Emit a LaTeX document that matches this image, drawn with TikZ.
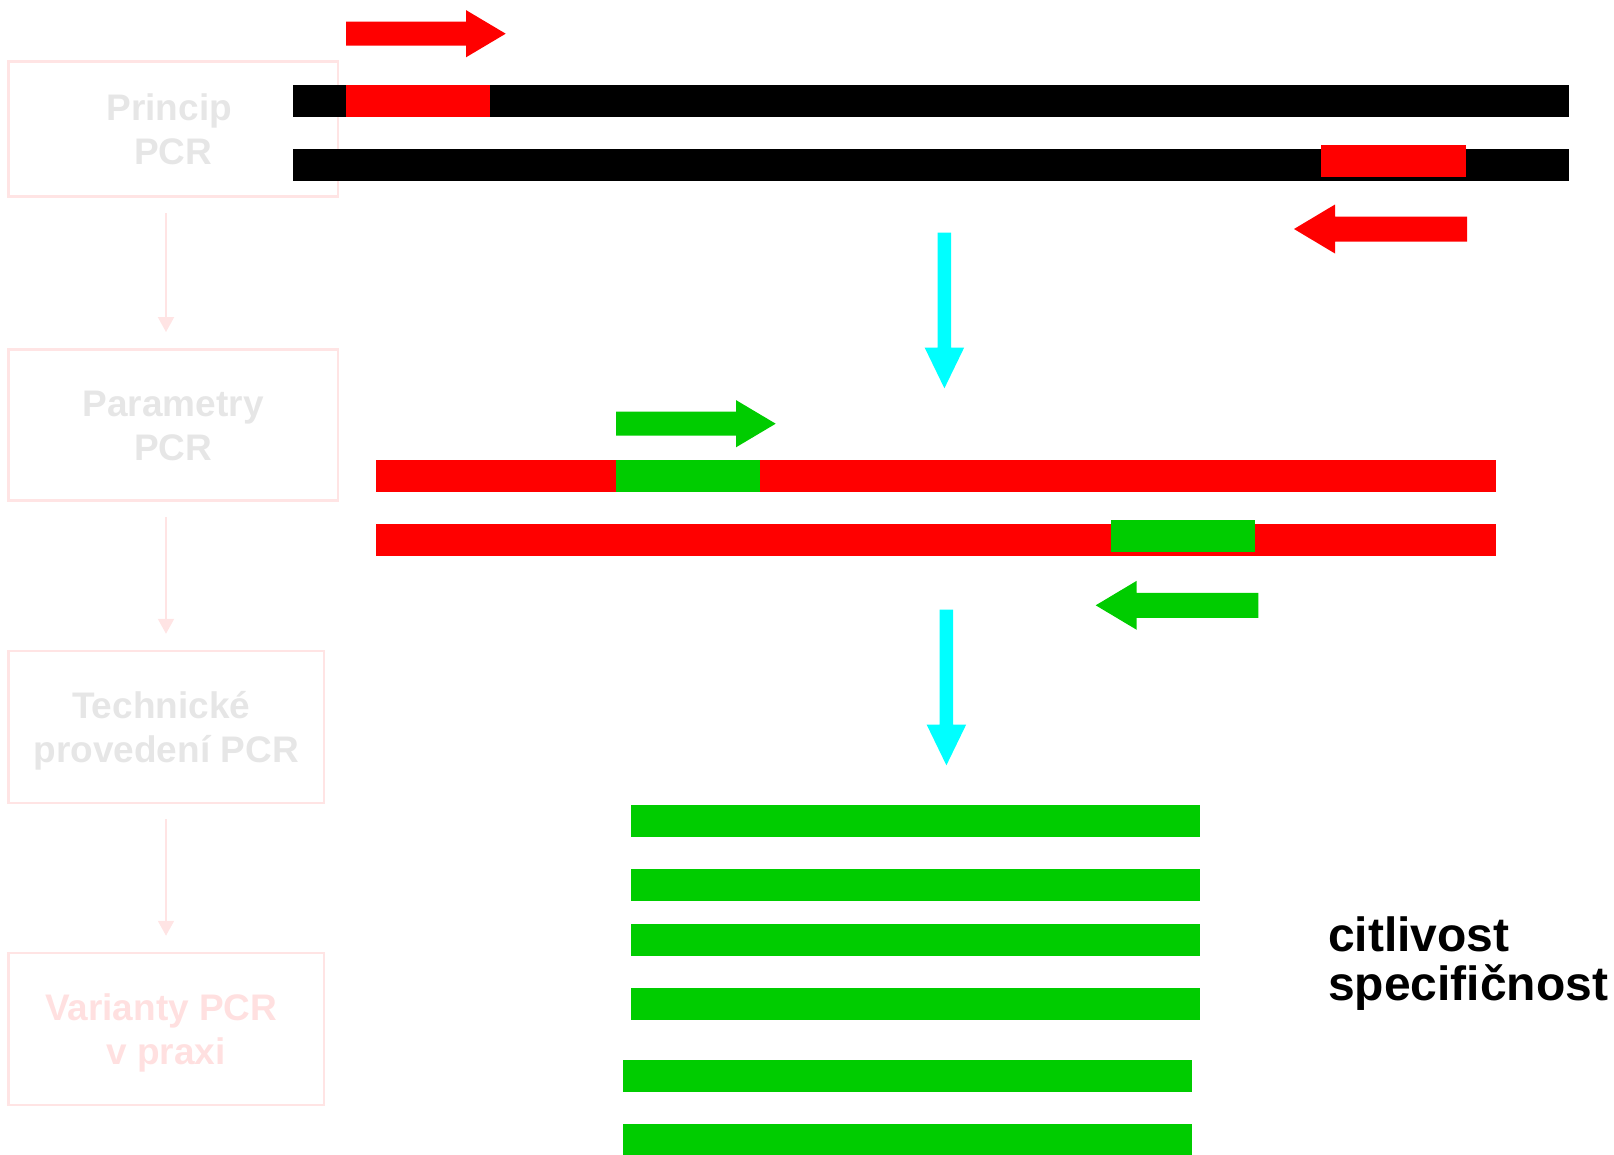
\documentclass[tikz,border=0pt]{standalone}
\usepackage{fontspec}
\setmainfont{Liberation Sans}
\usetikzlibrary{arrows.meta}

\definecolor{pcrred}{RGB}{255,0,0}
\definecolor{pcrgreen}{RGB}{0,204,0}
\definecolor{pcrcyan}{RGB}{0,255,255}
\definecolor{navline}{RGB}{255,228,228}
\definecolor{navtext}{RGB}{230,230,230}
\definecolor{navactive}{RGB}{255,224,224}

\tikzset{
  x=1pt, y=-1pt,
  % two-line labels: cap top of line 1 to baseline of line 2
  navbox/.style={draw=navline, line width=2.5pt, align=center, inner sep=0pt,
    text=navtext, font=\bfseries\fontsize{37}{44}\selectfont,
    text height=70.5pt, text depth=0pt},
  navlink/.style={draw=navline, line width=2pt,
    -{Triangle[width=16pt,length=15pt]}, shorten <=15pt, shorten >=16pt},
  sidetext/.style={font=\bfseries\fontsize{48}{49}\selectfont,
    inner sep=0pt, anchor=base west},
  % block arrows: shaft from (0,0) to the head base, then the head
  pics/fatright/.style args={#1/#2}{code={
    \fill[#1] (0,-12) -- (#2,-12) -- (#2,-23.6) -- (#2+39.7,0)
      -- (#2,23.6) -- (#2,12) -- (0,12) -- cycle;}},
  pics/fatleft/.style args={#1/#2}{code={
    \fill[#1] (0,-12.5) -- (-#2,-12.5) -- (-#2,-24.5) -- (-#2-41,0)
      -- (-#2,24.5) -- (-#2,12.5) -- (0,12.5) -- cycle;}},
  pics/fatdown/.style={code={
    \fill[pcrcyan] (-6.7,0) -- (6.7,0) -- (6.7,115) -- (19.7,115)
      -- (0,155.6) -- (-19.7,115) -- (-6.7,115) -- cycle;}},
}

\begin{document}
\begin{tikzpicture}
\useasboundingbox (0,0) rectangle (1614,1154);

% ---- navigation column ----
\coordinate (col) at (166,0);
\node[navbox, minimum width=329.7pt, minimum height=135pt] (princip)
  at (173.2,129.2) {Princip\hspace*{8pt}\\PCR};
\node[navbox, minimum width=329.7pt, minimum height=151.4pt] (param)
  at (173.2,425) {Parametry\\PCR};
\node[navbox, minimum width=315.7pt, minimum height=151.7pt] (tech)
  at (166.2,726.9) {Technické\hspace*{10pt}\\provedení PCR};
\node[navbox, text=navactive, minimum width=315.7pt, minimum height=152pt] (var)
  at (166.2,1029) {Varianty PCR\hspace*{10pt}\\v praxi};
\draw[navlink] (princip.south -| col) -- (param.north -| col);
\draw[navlink] (param.south -| col) -- (tech.north -| col);
\draw[navlink] (tech.south -| col) -- (var.north -| col);

% ---- template DNA with outer primers ----
\fill[black] (293,85) rectangle (1568.7,116.7);
\fill[pcrred] (346,85) rectangle (490,116.7);
\fill[black] (293,149) rectangle (1568.7,180.7);
\fill[pcrred] (1321,145) rectangle (1465.7,176.7);
\pic at (346,33.7) {fatright={pcrred/120}};
\pic at (1467,229) {fatleft={pcrred/132}};

\pic at (944.4,232.7) {fatdown};

% ---- first product with nested primers ----
\fill[pcrred] (376,460) rectangle (1495.6,491.7);
\fill[pcrgreen] (616,460) rectangle (760,491.7);
\fill[pcrred] (376,524) rectangle (1495.6,555.7);
\fill[pcrgreen] (1111,520) rectangle (1255,551.7);
\pic at (616,423.7) {fatright={pcrgreen/120}};
\pic at (1258.3,605.3) {fatleft={pcrgreen/121.6}};

\pic at (946.4,609.7) {fatdown};

% ---- nested products ----
\fill[pcrgreen] (631,805) rectangle (1200,836.7);
\fill[pcrgreen] (631,869) rectangle (1200,900.7);
\fill[pcrgreen] (631,924) rectangle (1200,955.7);
\fill[pcrgreen] (631,988) rectangle (1200,1019.7);
\fill[pcrgreen] (623,1060) rectangle (1192,1091.7);
\fill[pcrgreen] (623,1124) rectangle (1192,1155);

\node[sidetext] (sens) at (1328,951.7) {citlivost};
\node[sidetext] (spec) at (1328,1000.5) {specifičnost};
\end{tikzpicture}
\end{document}
